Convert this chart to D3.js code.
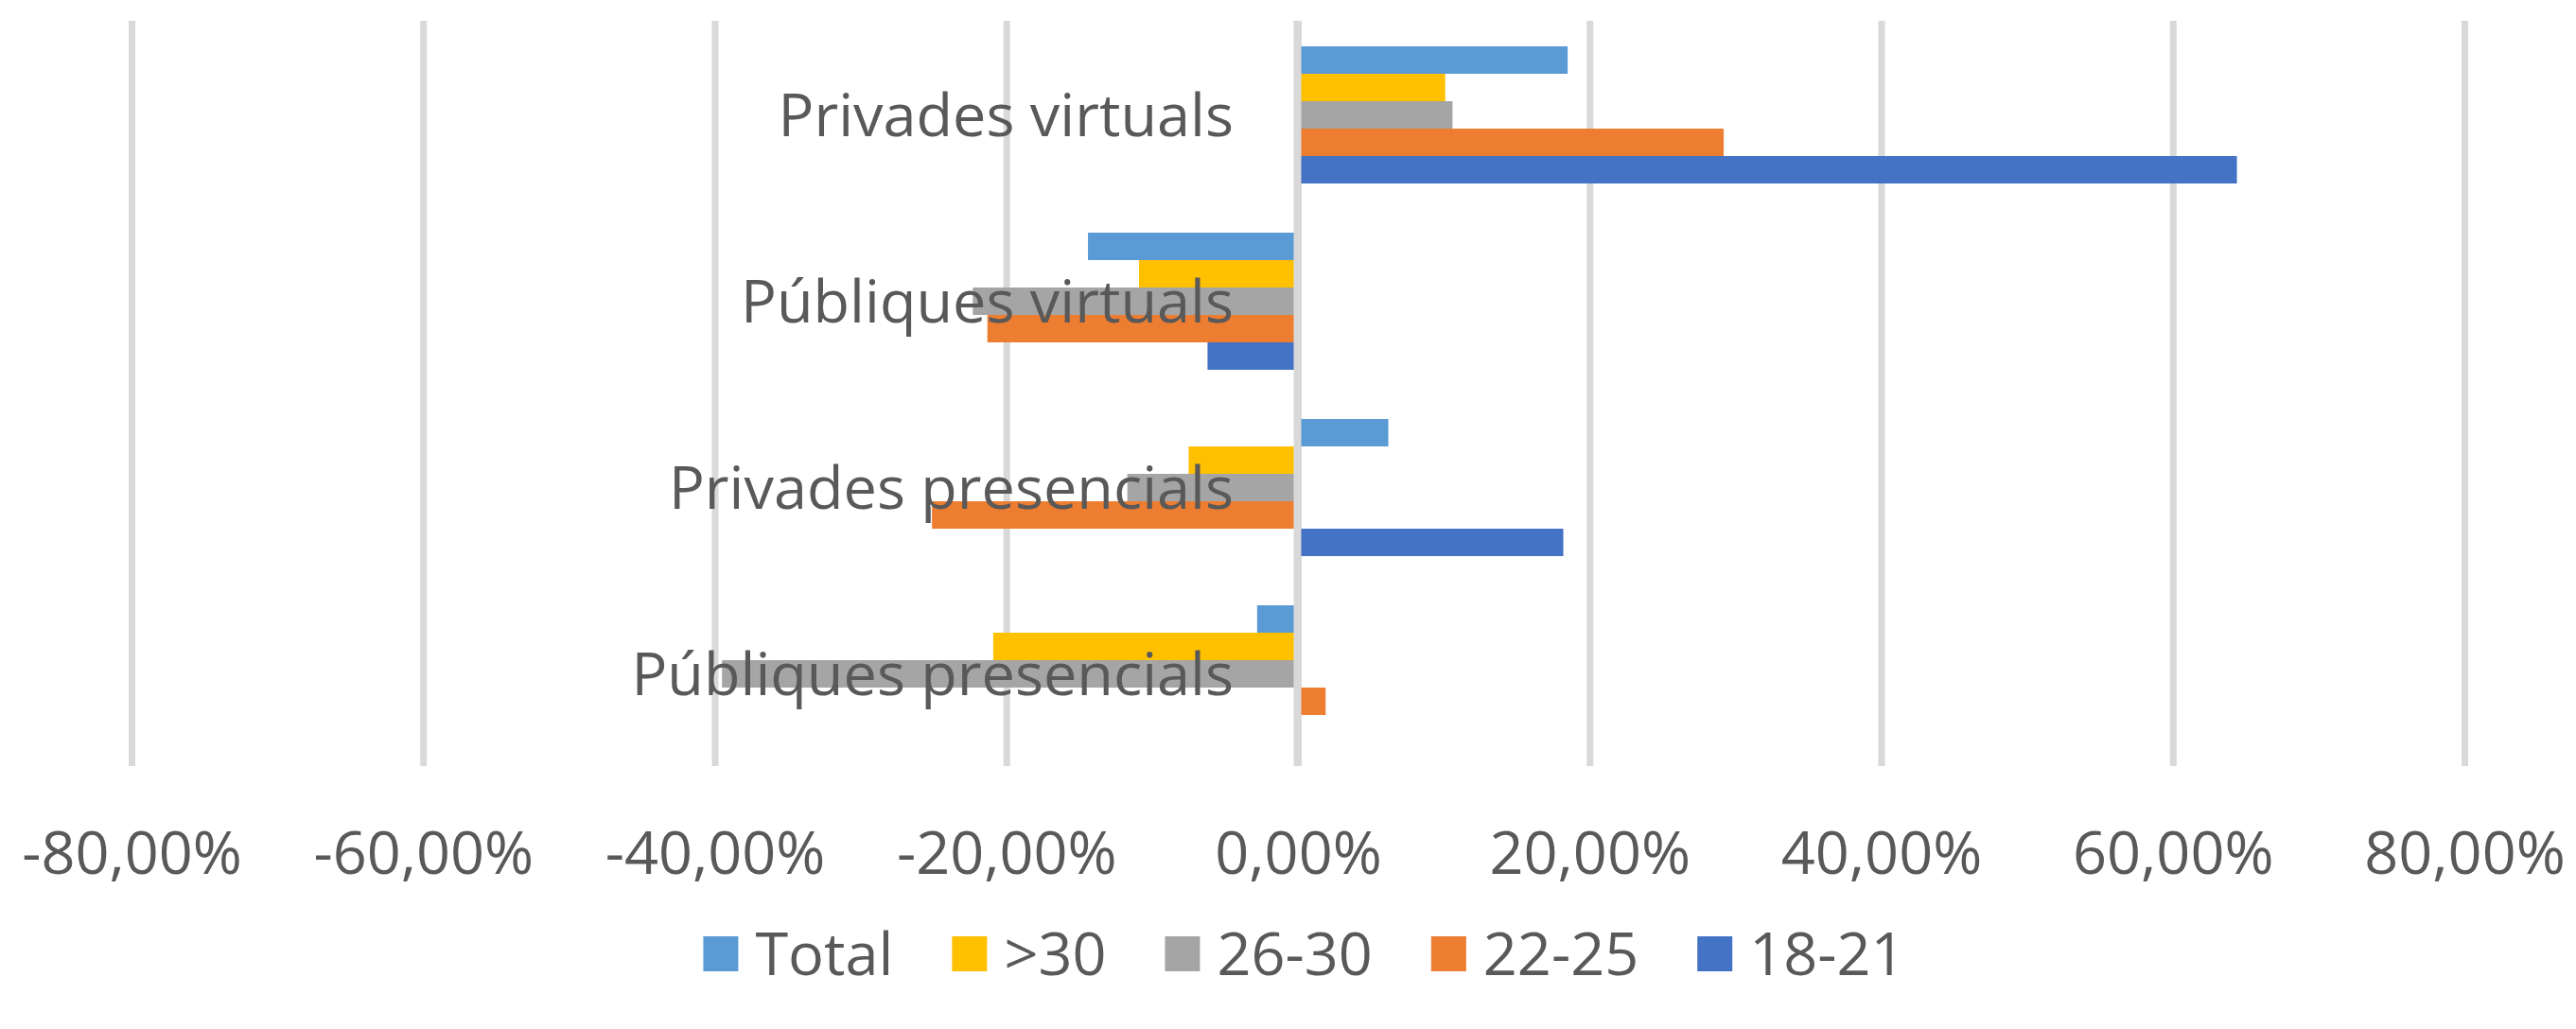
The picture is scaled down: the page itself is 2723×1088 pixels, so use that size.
<!DOCTYPE html>
<html>
<head>
<meta charset="utf-8">
<script src="https://cdnjs.cloudflare.com/ajax/libs/d3/7.8.5/d3.min.js"></script>
<style>
  html, body { margin: 0; padding: 0; background: #fff; }
  svg text { font-family: "Open Sans", "Noto Sans", sans-serif; fill: #595959; }
</style>
</head>
<body>
<div id="chart"></div>
<script>
// data
var categories = ["Privades virtuals", "Públiques virtuals", "Privades presencials", "Públiques presencials"];
var seriesNames = ["Total", ">30", "26-30", "22-25", "18-21"];
var seriesColors = ["#5B9BD5", "#FFC000", "#A5A5A5", "#ED7D31", "#4472C4"];
// values in %, same order as categories
var total   = [18.5, -14.4, 6.2, -2.8];
var over30  = [10.1, -10.9, -7.5, -20.9];
var age2630 = [10.6, -22.3, -11.7, -39.5];
var age2225 = [29.2, -21.3, -25.1, 1.9];
var age1821 = [64.4, -6.2, 18.2, 0];
var tickValues = [-80, -60, -40, -20, 0, 20, 40, 60, 80];
var tickLabels = ["-80,00%", "-60,00%", "-40,00%", "-20,00%", "0,00%", "20,00%", "40,00%", "60,00%", "80,00%"];

var seriesValues = [total, over30, age2630, age2225, age1821];

var svgWidth = 2723;
var svgHeight = 1088;
var plot = { left: 139, right: 2605, top: 22, bottom: 810 };
var fontSize = "63px";

var svg = d3.select("#chart")
  .append("svg")
  .attr("width", svgWidth)
  .attr("height", svgHeight);

var x = d3.scaleLinear()
  .domain([-80, 80])
  .range([plot.left, plot.right]);

var y = d3.scaleBand()
  .domain(categories)
  .range([plot.top, plot.bottom]);

// bars inside each category band
var yInner = d3.scaleBand()
  .domain(seriesNames)
  .range([27, y.bandwidth() - 25]);

// gridlines
var grid = svg.append("g")
  .attr("transform", `translate(0, ${plot.bottom})`)
  .call(d3.axisBottom(x)
    .tickValues(tickValues)
    .tickSize(-(plot.bottom - plot.top))
    .tickFormat(""));
grid.select(".domain").remove();
grid.selectAll(".tick line")
  .attr("stroke", "#D9D9D9")
  .attr("stroke-width", 7);

// bars
seriesNames.forEach(function(name, i) {
  var rows = categories.map(function(c, j) { return { cat: c, value: seriesValues[i][j] }; });
  svg.append("g")
    .selectAll("rect")
    .data(rows)
    .enter()
    .append("rect")
    .attr("x", d => x(Math.min(0, d.value)))
    .attr("y", d => y(d.cat) + yInner(name))
    .attr("width", d => Math.abs(x(d.value) - x(0)))
    .attr("height", yInner.bandwidth())
    .attr("fill", seriesColors[i]);
});

// vertical axis line at zero, over the bars
svg.append("line")
  .attr("x1", x(0) - 0.5)
  .attr("x2", x(0) - 0.5)
  .attr("y1", plot.top)
  .attr("y2", plot.bottom)
  .attr("stroke", "#D9D9D9")
  .attr("stroke-width", 8);

// category labels (drawn over the bars like in the original)
svg.append("g")
  .selectAll("text")
  .data(categories)
  .enter()
  .append("text")
  .attr("x", x(0) - 68)
  .attr("y", d => y(d) + y.bandwidth() / 2 + 23)
  .attr("text-anchor", "end")
  .attr("font-size", fontSize)
  .text(d => d);

// x tick labels
var xAxis = svg.append("g")
  .attr("transform", `translate(0, ${plot.bottom})`)
  .call(d3.axisBottom(x)
    .tickValues(tickValues)
    .tickSize(0)
    .tickPadding(0)
    .tickFormat((d, i) => tickLabels[i]));
xAxis.select(".domain").remove();
xAxis.selectAll("text")
  .attr("dy", null)
  .attr("y", 114)
  .attr("font-size", fontSize)
  .attr("font-family", null)
  .attr("fill", "#595959");

// legend
var legend = svg.append("g");
var items = legend.selectAll("g")
  .data(seriesNames)
  .enter()
  .append("g");
items.append("rect")
  .attr("width", 37)
  .attr("height", 37)
  .attr("y", -18)
  .attr("fill", (d, i) => seriesColors[i]);
items.append("text")
  .attr("x", 55)
  .attr("y", 23)
  .attr("font-size", fontSize)
  .text(d => d);

var pos = 0;
items.each(function() {
  var w = this.getBBox().width;
  d3.select(this).attr("transform", `translate(${pos}, 0)`);
  pos += w + 62;
});
var legendWidth = pos - 62;
legend.attr("transform", `translate(${(741 + 2016) / 2 - legendWidth / 2}, 1008)`);
</script>
</body>
</html>
